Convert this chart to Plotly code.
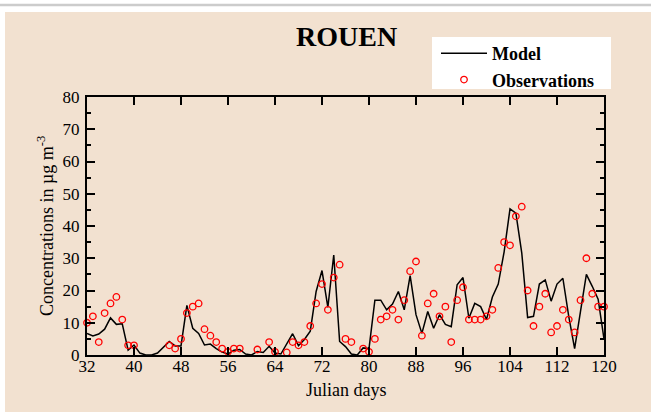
import plotly.graph_objects as go

days = list(range(32, 121))

model = [6.7, 5.9, 6.5, 8.0, 11.5, 9.5, 9.7, 1.5, 3.1, 0.6,
         0.0, 0.0, 0.6, 2.3, 4.2, 2.8, 2.8, 15.4, 8.3, 6.7,
         3.1, 3.4, 2.0, 0.9, 0.3, 1.5, 1.7, 0.3, 0.0, 1.1,
         0.8, 2.7, 0.6, 0.3, 3.4, 6.6, 2.9, 4.8, 7.4, 19.7,
         26.2, 14.8, 31.0, 4.2, 2.6, 0.3, 0.0, 2.2, 2.0, 17.0,
         17.0, 14.0, 15.8, 19.7, 14.0, 24.6, 12.5, 6.7, 13.5, 8.3,
         12.5, 9.5, 8.8, 21.8, 24.0, 11.4, 16.0, 15.0, 11.0, 18.0,
         22.0, 32.0, 45.3, 44.0, 31.7, 11.6, 12.0, 22.0, 23.3, 16.7,
         22.0, 23.8, 12.0, 2.0, 13.5, 25.0, 21.3, 17.3, 5.0]

observations = [10, 12, 4, 13, 16, 18, 11, 3, 3, None,
                None, None, None, None, 3, 2, 5, 13, 15, 16,
                8, 6, 4, 2, 1, 2, 2, None, None, 1.7,
                None, 4, 1, None, 0.8, 4, 3, 4, 9, 16,
                22, 14, 24, 28, 5, 4, None, 2, 1, 5,
                11, 12, 14, 11, 17, 26, 29, 6, 16, 19,
                12, 15, 4, 17, 21, 11, 11, 11, 12, 14,
                27, 35, 34, 43, 46, 20, 9, 15, 19, 7,
                9, 14, 11, 7, 17, 30, 19, 15, 15]

x_ticks = [32, 40, 48, 56, 64, 72, 80, 88, 96, 104, 112, 120]
y_ticks = [0, 10, 20, 30, 40, 50, 60, 70, 80]

W, H = 651, 412
L, R, T, B = 87, 47, 97, 57
PW, PH = W - L - R, H - T - B

def px(xp):
    return (xp - L) / PW

def py(yp):
    return (H - B - yp) / PH

SERIF = "Liberation Serif, Times New Roman, serif"
BEIGE = "#f2e1d0"

fig = go.Figure()
fig.add_trace(go.Scatter(x=days, y=model, mode="lines", name="Model",
                         line=dict(color="black", width=1.5), cliponaxis=False))
fig.add_trace(go.Scatter(x=days, y=observations, mode="markers", name="Observations",
                         marker=dict(symbol="circle-open", color="red", size=6.5,
                                     line=dict(color="red", width=1.3)),
                         cliponaxis=False))

axis_common = dict(showline=True, linecolor="black", linewidth=2, mirror="ticks",
                   ticks="inside", ticklen=8, tickwidth=1.5, tickcolor="black",
                   showgrid=False, zeroline=False, automargin=False,
                   tickfont=dict(family=SERIF, size=17, color="black"))

fig.update_xaxes(range=[32, 120], tickvals=x_ticks, ticktext=[str(v) for v in x_ticks],
                 ticklabelstandoff=-5, **axis_common)
fig.update_yaxes(range=[0, 80], tickvals=y_ticks, ticktext=[str(v) for v in y_ticks],
                 ticklabelstandoff=2,
                 minor=dict(dtick=5, ticks="inside", ticklen=4, tickwidth=1.5, tickcolor="black",
                            showgrid=False),
                 **axis_common)

fig.update_layout(
    width=W, height=H,
    margin=dict(l=L, r=R, t=T, b=B, autoexpand=False),
    paper_bgcolor=BEIGE, plot_bgcolor=BEIGE,
    showlegend=True,
    legend=dict(x=px(436), y=py(35), xanchor="left", yanchor="top",
                bgcolor="rgba(0,0,0,0)", borderwidth=0,
                font=dict(family=SERIF, size=18, color="black", weight="bold"),
                tracegroupgap=0, itemwidth=46),
    annotations=[
        dict(text="<b>ROUEN</b>", x=px(346), y=py(36), xref="paper", yref="paper",
             showarrow=False, xanchor="center", yanchor="middle",
             font=dict(family=SERIF, size=28, color="black")),
        dict(text="Julian days", x=px(346), y=py(390), xref="paper", yref="paper",
             showarrow=False, xanchor="center", yanchor="middle",
             font=dict(family=SERIF, size=18, color="black")),
        dict(text="Concentrations in µg m<sup>-3</sup>", x=px(45), y=py(226),
             xref="paper", yref="paper", textangle=-90,
             showarrow=False, xanchor="center", yanchor="middle",
             font=dict(family=SERIF, size=18, color="black")),
    ],
    shapes=[
        dict(type="rect", xref="paper", yref="paper", x0=px(0), x1=px(W), y0=py(12), y1=py(0),
             fillcolor="white", line=dict(width=0), layer="above"),
        dict(type="rect", xref="paper", yref="paper", x0=px(0), x1=px(5), y0=py(H), y1=py(0),
             fillcolor="white", line=dict(width=0), layer="above"),
        dict(type="line", xref="paper", yref="paper", x0=px(0), x1=px(W), y0=py(5), y1=py(5),
             line=dict(color="#cccccc", width=2.5), layer="above"),
        dict(type="rect", xref="paper", yref="paper", x0=px(432), x1=px(611), y0=py(89), y1=py(37),
             fillcolor="white", line=dict(width=0), layer="below"),
    ],
)

fig.write_html("out.html", config={"displayModeBar": False},
               post_script="document.body.style.margin='0';")
